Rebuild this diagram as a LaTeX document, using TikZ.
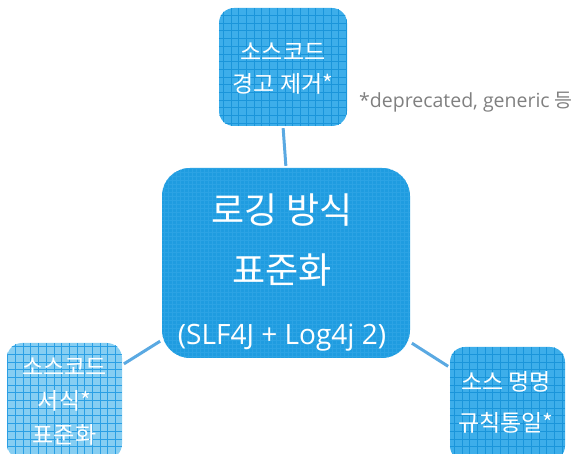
\documentclass[tikz,border=0pt]{standalone}
\usepackage{fontspec}
\setmainfont{Noto Sans CJK KR}
\newfontfamily\latinfont{Open Sans}
\definecolor{boxA}{HTML}{3DAEEA}
\definecolor{gridA}{HTML}{1A95DA}
\definecolor{boxC}{HTML}{1F9CE0}
\definecolor{gridC}{HTML}{3AAAE8}
\definecolor{boxL}{HTML}{86CEF2}
\definecolor{gridL}{HTML}{2A9FE4}
\definecolor{linkc}{HTML}{5AA9E2}
\definecolor{notec}{HTML}{808080}
\begin{document}
\begin{tikzpicture}[x=1pt,y=-1pt,
  smallbox/.style={draw=none,rounded corners=15pt,inner sep=0pt},
  bigbox/.style={draw=none,rounded corners=28pt,inner sep=0pt},
  wtext/.style={text=white,align=center,inner sep=0pt},
  link/.style={draw=linkc,line width=3pt,shorten <=2pt,shorten >=2pt}]
\useasboundingbox (0,0) rectangle (576,454);
% boxes
\node[smallbox,fill=boxA,minimum width=128pt,minimum height=118pt] (top) at (283,67) {};
\node[bigbox,fill=boxC,minimum width=248pt,minimum height=190pt] (ctr) at (286,263) {};
\node[smallbox,fill=boxL,minimum width=115pt,minimum height=116pt] (lft) at (64.5,401) {};
\node[smallbox,fill=boxA,minimum width=115pt,minimum height=114pt] (rgt) at (507.5,404) {};
% grids
\begin{scope}
\clip[rounded corners=15pt] (top.south west) rectangle (top.north east);
\draw[gridA,line width=0.7pt] (top.south west) grid[step=7.7pt] (top.north east);
\end{scope}
\begin{scope}
\clip[rounded corners=15pt] (rgt.south west) rectangle (rgt.north east);
\draw[gridA,line width=0.7pt] (rgt.south west) grid[step=7.7pt] (rgt.north east);
\end{scope}
\begin{scope}
\clip[rounded corners=15pt] (lft.south west) rectangle (lft.north east);
\draw[gridL,line width=0.7pt] (lft.south west) grid[step=7.7pt] (lft.north east);
\end{scope}
\begin{scope}
\clip[rounded corners=28pt] (ctr.south west) rectangle (ctr.north east);
\draw[gridC,line width=0.3pt,opacity=0.5] (ctr.south west) grid[step=4pt] (ctr.north east);
\end{scope}
% connectors
\draw[link] (top.south) -- (ctr.north);
\draw[link] (lft) -- (ctr);
\draw[link] (ctr) -- (rgt);
% texts
\node[wtext,font=\fontsize{23}{32}\selectfont] (topt) at (283,69) {소스코드\\경고 제거*};
\node[wtext,font=\fontsize{36}{60}\selectfont] (ctrt) at (282,240) {로깅 방식\\표준화};
\node[wtext,font=\latinfont\fontsize{28}{30}\selectfont] (ctrl) at (282,338) {(SLF4J + Log4j 2)};
\node[wtext,font=\fontsize{23}{34}\selectfont] (lftt) at (64.5,402) {소스코드\\서식*\\표준화};
\node[wtext,font=\fontsize{23}{41}\selectfont] (rgtt) at (506,402) {소스 명명\\규칙통일*};
\node[text=notec,inner sep=0pt,font=\latinfont\fontsize{19.5}{22}\selectfont] (note) at (466,102) {*deprecated, generic {\rmfamily 등}};
\end{tikzpicture}
\end{document}
